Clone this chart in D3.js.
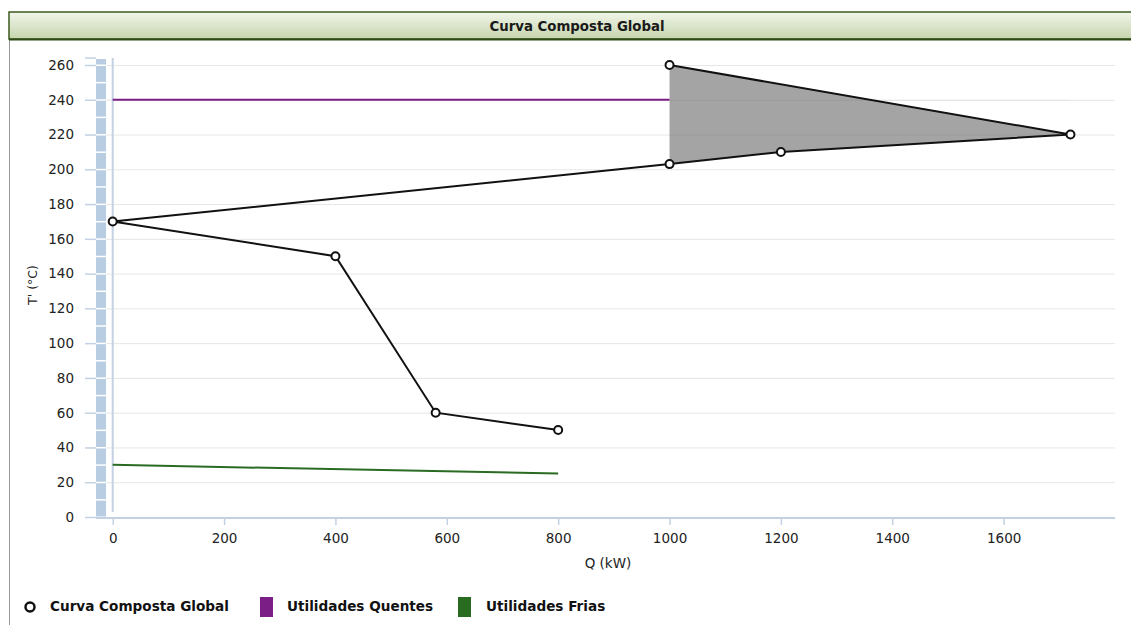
<!DOCTYPE html>
<html>
<head>
<meta charset="utf-8">
<script src="https://cdn.jsdelivr.net/npm/d3@7"></script>
<style>
  body { margin: 0; background: #fff; }
  svg { display: block; font-family: "DejaVu Sans", sans-serif; }
</style>
</head>
<body>
<svg id="chart" width="1131" height="625"></svg>
<script>
// Grand composite curve (Q in kW, shifted temperature in °C)
const curveQ = [800, 580, 400, 0, 1000, 1200, 1720, 1000];
const curveT = [50, 60, 150, 170, 203, 210, 220, 260];
// Pocket region (heat recovery loop) above the pinch
const pocketQ = [1000, 1000, 1200, 1720];
const pocketT = [260, 203, 210, 220];
// Hot utility
const hotQ = [0, 1000];
const hotT = [240, 240];
// Cold utility
const coldQ = [0, 800];
const coldT = [30, 25];

const xTicks = [0, 200, 400, 600, 800, 1000, 1200, 1400, 1600];
const yTicks = [0, 20, 40, 60, 80, 100, 120, 140, 160, 180, 200, 220, 240, 260];
const legendItems = ["Curva Composta Global", "Utilidades Quentes", "Utilidades Frias"];

const svg = d3.select("#chart");
const fs = 13.5;

// Panel frame and title bar
const grad = svg.append("defs").append("linearGradient")
  .attr("id", "titleGrad").attr("x1", 0).attr("y1", 0).attr("x2", 0).attr("y2", 1);
grad.append("stop").attr("offset", "0%").attr("stop-color", "#f1f6ea");
grad.append("stop").attr("offset", "100%").attr("stop-color", "#c5d5ad");

svg.append("line").attr("x1", 9.5).attr("x2", 9.5).attr("y1", 40).attr("y2", 625)
  .attr("stroke", "#9a9a9a").attr("stroke-width", 1);
svg.append("rect").attr("x", 9).attr("y", 12).attr("width", 1130).attr("height", 27)
  .attr("fill", "url(#titleGrad)").attr("stroke", "#3d5a1e").attr("stroke-width", 1.5);
svg.append("line").attr("x1", 9).attr("x2", 1131).attr("y1", 39.5).attr("y2", 39.5)
  .attr("stroke", "#2f4a16").attr("stroke-width", 2);
svg.append("text").attr("x", 577).attr("y", 30.5).attr("text-anchor", "middle")
  .attr("font-family", "'DejaVu Sans Condensed', 'DejaVu Sans', sans-serif")
  .attr("font-weight", "bold").attr("font-size", 14.8).attr("fill", "#1a1a1a")
  .text("Curva Composta Global");

// Scales
const x = d3.scaleLinear().domain([-30, 1800]).range([96, 1115]);
const y = d3.scaleLinear().domain([0, 260]).range([517, 65]);

const axisColor = "#c3d1e2";

// Horizontal grid lines
svg.append("g").selectAll("line").data(yTicks).join("line")
  .attr("x1", 106).attr("x2", 1115)
  .attr("y1", d => y(d) + 0.5).attr("y2", d => y(d) + 0.5)
  .attr("stroke", "#e6e6e6").attr("stroke-width", 1);

// Segmented y-axis bar (blocks every 10 units)
const blocks = d3.range(0, 270, 10);
svg.append("g").selectAll("rect").data(blocks).join("rect")
  .attr("x", 96).attr("width", 10)
  .attr("y", d => Math.max(y(d + 10), y(264)) + 1)
  .attr("height", d => y(d) - Math.max(y(d + 10), y(264)) - 1.5)
  .attr("fill", "#b8cce2");

// Y axis ticks and labels
const yAxis = d3.axisLeft(y).tickValues(yTicks).tickSize(11).tickPadding(11);
const gy = svg.append("g").attr("transform", "translate(96,0)").call(yAxis);
gy.select(".domain").remove();
gy.selectAll(".tick line").attr("stroke", axisColor).attr("stroke-width", 1.5);
gy.selectAll(".tick text").attr("font-size", fs).attr("fill", "#222")
  .attr("font-family", "'DejaVu Sans', sans-serif");
svg.append("line").attr("x1", 85).attr("x2", 96).attr("y1", y(264)).attr("y2", y(264))
  .attr("stroke", axisColor).attr("stroke-width", 1.5);

// X axis
const xAxis = d3.axisBottom(x).tickValues(xTicks).tickFormat(d3.format("d"))
  .tickSize(7).tickPadding(8);
const gx = svg.append("g").attr("transform", "translate(0,518)").call(xAxis);
gx.select(".domain").remove();
gx.selectAll(".tick line").attr("stroke", axisColor).attr("stroke-width", 1.5);
gx.selectAll(".tick text").attr("font-size", fs).attr("fill", "#222")
  .attr("font-family", "'DejaVu Sans', sans-serif");
svg.append("line").attr("x1", 96).attr("x2", 1115).attr("y1", 518).attr("y2", 518)
  .attr("stroke", axisColor).attr("stroke-width", 2);

// Zero line at Q = 0
svg.append("line").attr("x1", x(0)).attr("x2", x(0)).attr("y1", y(264)).attr("y2", 512)
  .attr("stroke", axisColor).attr("stroke-width", 2);

// Axis titles
svg.append("text").attr("x", 608).attr("y", 568).attr("text-anchor", "middle")
  .attr("font-size", fs).attr("fill", "#222").text("Q (kW)");
svg.append("text").attr("transform", "translate(37,285) rotate(-90)")
  .attr("text-anchor", "middle").attr("font-size", 12.5).attr("fill", "#222").text("T' (°C)");

const line = d3.line().x(d => x(d[0])).y(d => y(d[1]));

// Pocket fill
svg.append("path")
  .attr("d", line(pocketQ.map((q, i) => [q, pocketT[i]])) + "Z")
  .attr("fill", "#9a9a9a").attr("fill-opacity", 0.9);
// faint grid visible through the fill
svg.append("g").selectAll("line").data([220, 240]).join("line")
  .attr("x1", x(1000)).attr("x2", x(1720))
  .attr("y1", d => y(d) + 0.5).attr("y2", d => y(d) + 0.5)
  .attr("stroke", "#000").attr("stroke-opacity", 0.04);

// Hot utility
svg.append("path").attr("d", line(hotQ.map((q, i) => [q, hotT[i]])))
  .attr("fill", "none").attr("stroke", "#7b1f86").attr("stroke-width", 2);

// Cold utility
svg.append("path").attr("d", line(coldQ.map((q, i) => [q, coldT[i]])))
  .attr("fill", "none").attr("stroke", "#2a6b22").attr("stroke-width", 2);

// Grand composite curve
const pts = curveQ.map((q, i) => [q, curveT[i]]);
svg.append("path").attr("d", line(pts))
  .attr("fill", "none").attr("stroke", "#111").attr("stroke-width", 2);
svg.append("g").selectAll("circle").data(pts).join("circle")
  .attr("cx", d => x(d[0])).attr("cy", d => y(d[1])).attr("r", 4)
  .attr("fill", "#fff").attr("stroke", "#111").attr("stroke-width", 2);

// Legend
const lg = svg.append("g").attr("font-weight", "bold").attr("font-size", 13.6).attr("fill", "#111");
lg.append("circle").attr("cx", 30).attr("cy", 607).attr("r", 4.5)
  .attr("fill", "#fff").attr("stroke", "#111").attr("stroke-width", 2.5);
lg.append("text").attr("x", 50).attr("y", 611).text(legendItems[0]);
lg.append("rect").attr("x", 260).attr("y", 597).attr("width", 13).attr("height", 20)
  .attr("fill", "#7b1f86");
lg.append("text").attr("x", 287).attr("y", 611).text(legendItems[1]);
lg.append("rect").attr("x", 458).attr("y", 597).attr("width", 13).attr("height", 20)
  .attr("fill", "#2a6b22");
lg.append("text").attr("x", 486).attr("y", 611).text(legendItems[2]);
</script>
</body>
</html>
